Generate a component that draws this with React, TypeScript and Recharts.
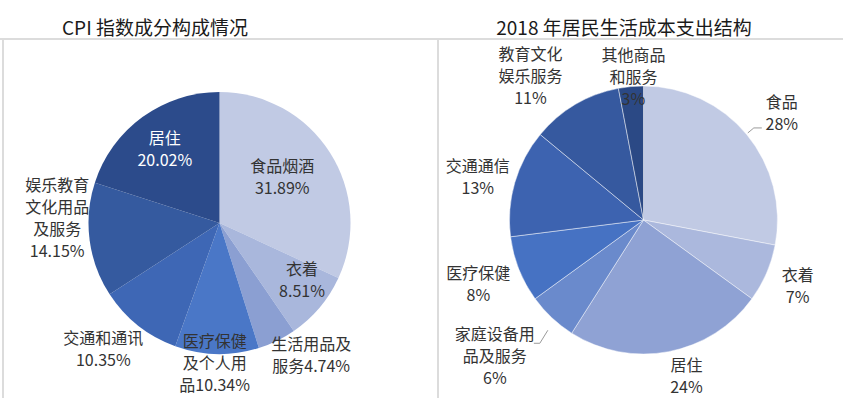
import { PieChart, Pie, Cell } from 'recharts';

// CPI 指数成分构成情况
const cpiNames = ['食品烟酒', '衣着', '生活用品及服务', '医疗保健及个人用品', '交通和通讯', '娱乐教育文化用品及服务', '居住'];
const cpiValues = [31.89, 8.51, 4.74, 10.34, 10.35, 14.15, 20.02];
const cpiLabelText = ['食品烟酒\n', '衣着\n', '生活用品及\n服务', '医疗保健\n及个人用\n品', '交通和通讯\n', '娱乐教育\n文化用品\n及服务\n', '居住\n'];
const cpiColors = ['#c1cae4', '#a9b7dc', '#8b9fd2', '#4a77c7', '#3e67b5', '#355a9f', '#2c4b8b'];

// 2018 年居民生活成本支出结构
const costNames = ['食品', '衣着', '居住', '家庭设备用品及服务', '医疗保健', '交通通信', '教育文化娱乐服务', '其他商品和服务'];
const costValues = [28, 7, 24, 6, 8, 13, 11, 3];
const costLabelText = ['食品\n', '衣着\n', '居住\n', '家庭设备用\n品及服务\n', '医疗保健\n', '交通通信\n', '教育文化\n娱乐服务\n', '其他商品\n和服务\n'];
const costColors = ['#c1cae4', '#abb8dd', '#8fa2d4', '#6a8acc', '#4672c3', '#3d63b0', '#36599f', '#2b4985'];

// label placement: [radius factor, angle clockwise from 12 o'clock]
const cpiLabelPos: [number, number][] = [
  [0.6, 53], [0.76, 124], [1.22, 145], [1.06, 182], [1.3, 223], [1.24, 272], [0.71, 324],
];
const costLabelPos: [number, number][] = [
  [1.31, 52], [1.25, 113], [1.2, 164.5], [1.5, 227.7], [1.32, 249], [1.28, 285], [1.37, 322], [1.08, 356],
];
// leader lines, offsets from label centre
const costLeaders: Record<number, [number, number][]> = {
  0: [[-34, 21], [-28, 16], [-20, 16]],
  3: [[53, -25], [45, -12], [39, -12]],
};

const cpiData = cpiNames.map((name, i) => ({ name, value: cpiValues[i] }));
const costData = costNames.map((name, i) => ({ name, value: costValues[i] }));

const FONT = '"Noto Sans CJK SC", "Noto Sans", sans-serif';
const LINE_H = 22;

const makeLabel = (
  texts: string[],
  values: number[],
  pos: [number, number][],
  fmt: (v: number) => string,
  leaders: Record<number, [number, number][]>,
  whiteIdx: number[],
) => (props: any) => {
  const { cx, cy, outerRadius, index } = props;
  const [f, deg] = pos[index];
  const rad = (deg * Math.PI) / 180;
  const x = cx + f * outerRadius * Math.sin(rad);
  const y = cy - f * outerRadius * Math.cos(rad);
  const lines = (texts[index] + fmt(values[index])).split('\n');
  const top = y - ((lines.length - 1) * LINE_H) / 2;
  const leader = leaders[index];
  return (
    <g key={`lbl-${index}`}>
      {leader && (
        <polyline
          points={leader.map(([dx, dy]) => `${x + dx},${y + dy}`).join(' ')}
          fill="none"
          stroke="#9a9a9a"
          strokeWidth={1}
        />
      )}
      <text
        x={x}
        y={top}
        textAnchor="middle"
        dominantBaseline="central"
        fontFamily={FONT}
        fontSize={16}
        fill={whiteIdx.includes(index) ? '#ffffff' : '#333333'}
      >
        {lines.map((ln, i) => (
          <tspan key={i} x={x} dy={i === 0 ? 0 : LINE_H}>{ln}</tspan>
        ))}
      </text>
    </g>
  );
};

const cpiLabel = makeLabel(cpiLabelText, cpiValues, cpiLabelPos, v => `${v.toFixed(2)}%`, {}, [6]);
const costLabel = makeLabel(costLabelText, costValues, costLabelPos, v => `${v}%`, costLeaders, []);

export default function App() {
  return (
    <div style={{ position: 'absolute', left: 0, top: 0, width: 843, height: 398, background: '#fff', fontFamily: FONT }}>
      <div style={{ position: 'absolute', left: 0, top: 38, width: 843, height: 2, background: '#dcdcdc' }} />
      <div style={{ position: 'absolute', left: 2, top: 39, width: 2, height: 359, background: '#dcdcdc' }} />
      <div style={{ position: 'absolute', left: 437, top: 39, width: 2, height: 359, background: '#dcdcdc' }} />
      <div style={{ position: 'absolute', left: 45, top: 13, width: 220, textAlign: 'center', fontSize: 19, color: '#1a1a1a', lineHeight: '28px' }}>
        CPI 指数成分构成情况
      </div>
      <div style={{ position: 'absolute', left: 474, top: 13, width: 300, textAlign: 'center', fontSize: 19, color: '#1a1a1a', lineHeight: '28px' }}>
        2018 年居民生活成本支出结构
      </div>
      <div style={{ position: 'absolute', left: 0, top: 0 }}>
        <PieChart width={843} height={398} margin={{ top: 0, right: 0, bottom: 0, left: 0 }}>
          <Pie
            data={cpiData}
            dataKey="value"
            nameKey="name"
            cx={219.5}
            cy={223}
            outerRadius={131}
            startAngle={90}
            endAngle={-270}
            stroke="none"
            label={cpiLabel}
            labelLine={false}
            isAnimationActive={false}
          >
            {cpiData.map((d, i) => (
              <Cell key={d.name} fill={cpiColors[i]} />
            ))}
          </Pie>
          <Pie
            data={costData}
            dataKey="value"
            nameKey="name"
            cx={643.5}
            cy={220}
            outerRadius={134}
            startAngle={90}
            endAngle={-270}
            stroke="rgba(255,255,255,0.45)"
            strokeWidth={1}
            label={costLabel}
            labelLine={false}
            isAnimationActive={false}
          >
            {costData.map((d, i) => (
              <Cell key={d.name} fill={costColors[i]} />
            ))}
          </Pie>
        </PieChart>
      </div>
    </div>
  );
}
